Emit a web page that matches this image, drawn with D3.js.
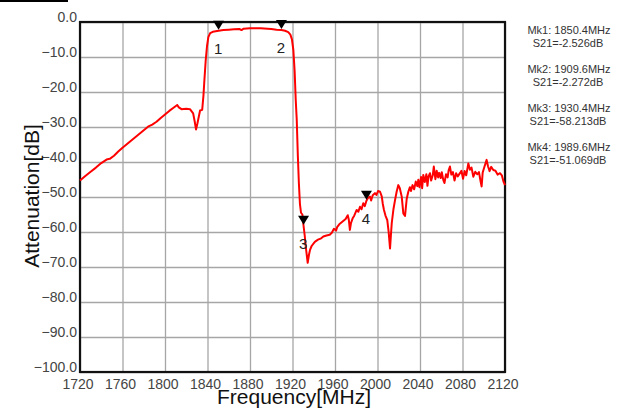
<!DOCTYPE html>
<html>
<head>
<meta charset="utf-8">
<script src="https://cdn.jsdelivr.net/npm/d3@7"></script>
<style>
  html, body { margin: 0; padding: 0; background: #fff; }
  svg { display: block; font-family: "Liberation Sans", Arial, sans-serif; }
</style>
</head>
<body>
<svg id="chart" width="617" height="411"></svg>
<script>
// S21 sweep: frequency (MHz) and attenuation (dB)
const traceFreq = [
  1720, 1725, 1730, 1735, 1740, 1745, 1748, 1752, 1756, 1760,
  1764, 1768, 1772, 1776, 1780, 1784, 1788, 1792, 1796, 1800,
  1804, 1808, 1811.5, 1813, 1815.5, 1820, 1823.5, 1826.5, 1828, 1829.2,
  1830.5, 1831.5, 1833, 1835, 1836.2, 1837, 1838.3, 1839.5, 1840.8, 1842.5,
  1845, 1850.4, 1855, 1860, 1865, 1870, 1872, 1874, 1880, 1890,
  1900, 1905, 1909.6, 1913, 1916, 1918, 1919.5, 1920.8, 1922, 1923,
  1924, 1925, 1926, 1927, 1928, 1929.3, 1930.4, 1931.5, 1932.8, 1934.3,
  1935.5, 1936.5, 1938, 1941, 1944, 1947, 1949, 1952, 1955, 1957,
  1959, 1961, 1962, 1964, 1966, 1968, 1970, 1972, 1973, 1974,
  1975, 1976.6, 1978, 1980.4, 1982, 1983.5, 1985, 1986.6, 1988, 1989.6,
  1991, 1992.9, 1994, 1995.5, 1997.6, 1999, 2000.5, 2002.4, 2004, 2005,
  2006.1, 2007.5, 2009.2, 2010.5, 2011.8, 2012.6, 2013.4, 2015, 2016.5, 2018,
  2019.6, 2021, 2022.8, 2024.3, 2025.9, 2027.5, 2029, 2030.5, 2031.5, 2033,
  2034.5, 2036, 2037.5, 2038.4, 2039.5, 2041, 2042, 2043.1, 2044.5, 2046,
  2047, 2048, 2049.4, 2050.5, 2052, 2053, 2054.5, 2055.7, 2057, 2058,
  2059.5, 2060.5, 2061.9, 2063, 2064.5, 2066, 2067, 2068.2, 2069.5, 2071,
  2072.5, 2074, 2075.5, 2077.6, 2079, 2080.5, 2082, 2083.5, 2085.5, 2087,
  2088.5, 2090.2, 2092, 2094, 2095.5, 2097, 2098, 2099, 2100.5, 2102.7,
  2104, 2105.5, 2107, 2109, 2111, 2113, 2115.3, 2117, 2118.5, 2120
];
const traceDb = [
  -45.3, -44.0, -42.8, -41.6, -40.3, -39.3, -39.1, -38.2, -37.0, -35.9,
  -34.9, -33.9, -32.9, -31.9, -30.9, -29.9, -29.3, -28.5, -27.4, -26.4,
  -25.4, -24.5, -23.7, -24.4, -24.9, -24.8, -24.9, -26.1, -28.5, -30.7,
  -29.0, -27.5, -25.3, -25.1, -21.0, -17.0, -11.0, -7.0, -4.3, -3.2,
  -2.8, -2.526, -2.3, -2.2, -2.1, -2.0, -2.3, -1.9, -1.8, -1.8,
  -2.0, -2.2, -2.272, -2.5, -2.9, -3.6, -5.0, -8.0, -14.0, -22.0,
  -28.0, -38.0, -46.0, -52.0, -54.5, -55.0, -58.213, -61.0, -65.0, -68.8,
  -66.5, -65.1, -64.0, -62.8, -62.2, -61.8, -61.3, -61.0, -60.8, -60.2,
  -59.1, -59.6, -58.6, -57.8, -57.3, -56.8, -56.3, -55.2, -56.5, -59.4,
  -57.5, -56.1, -55.4, -53.7, -54.2, -52.8, -53.5, -51.8, -52.6, -51.069,
  -50.3, -49.9, -51.0, -49.5, -48.9, -49.4, -48.3, -48.5, -49.8, -52.0,
  -53.7, -55.3, -56.6, -60.0, -64.7, -61.0, -57.5, -53.5, -50.9, -48.5,
  -46.6, -47.5, -49.9, -54.7, -55.4, -50.5, -48.5, -47.2, -48.3, -46.6,
  -47.8, -45.6, -46.9, -45.1, -47.2, -44.3, -47.5, -43.7, -45.7, -43.5,
  -46.8, -44.2, -43.2, -45.3, -43.8, -41.3, -44.9, -42.5, -44.4, -43.1,
  -44.6, -42.9, -45.1, -46.0, -43.5, -44.4, -42.3, -41.3, -43.6, -42.9,
  -45.3, -43.2, -44.1, -43.2, -42.5, -44.8, -42.6, -43.8, -40.4, -42.2,
  -41.6, -44.2, -42.8, -43.5, -42.9, -45.5, -47.0, -43.0, -41.5, -39.4,
  -41.2, -42.6, -41.4, -42.3, -42.5, -43.6, -43.2, -43.8, -45.5, -46.6
];

// Markers
const markerNames = ["1", "2", "3", "4"];
const markerFreq = [1850.4, 1909.6, 1930.4, 1989.6];
const markerDb = [-2.526, -2.272, -58.213, -51.069];

// Axis ticks
const xTicks = [1720, 1760, 1800, 1840, 1880, 1920, 1960, 2000, 2040, 2080, 2120];
const yTicks = [0, -10, -20, -30, -40, -50, -60, -70, -80, -90, -100];

const svg = d3.select("#chart");
const plotLeft = 80, plotRight = 505, plotTop = 22, plotBottom = 372;

const x = d3.scaleLinear().domain([1720, 2120]).range([plotLeft, plotRight]);
const y = d3.scaleLinear().domain([0, -100]).range([plotTop, plotBottom]);

svg.append("rect").attr("width", 617).attr("height", 411).attr("fill", "#fff");

// short rule at the top-left corner
svg.append("rect").attr("x", 0).attr("y", 0).attr("width", 68).attr("height", 2).attr("fill", "#000");

// grid
const gx = svg.append("g")
  .attr("transform", `translate(0,${plotBottom})`)
  .call(d3.axisBottom(x).tickValues(xTicks).tickSize(-(plotBottom - plotTop)).tickFormat(""));
gx.select(".domain").remove();
gx.selectAll("line").attr("stroke", "#a6a6a6").attr("stroke-width", 1.3);

const gy = svg.append("g")
  .attr("transform", `translate(${plotLeft},0)`)
  .call(d3.axisLeft(y).tickValues(yTicks).tickSize(-(plotRight - plotLeft)).tickFormat(""));
gy.select(".domain").remove();
gy.selectAll("line").attr("stroke", "#a6a6a6").attr("stroke-width", 1.3);

// tick labels
svg.append("g").selectAll("text")
  .data(yTicks)
  .join("text")
  .attr("x", plotLeft - 3)
  .attr("y", d => y(d))
  .attr("text-anchor", "end")
  .attr("font-size", 14)
  .attr("fill", "#444")
  .text(d => d3.format(".1f")(d));

svg.append("g").selectAll("text")
  .data(xTicks)
  .join("text")
  .attr("x", d => x(d) - 2)
  .attr("y", plotBottom + 17)
  .attr("text-anchor", "middle")
  .attr("font-size", 14)
  .attr("fill", "#444")
  .text(d => d);

// frame
svg.append("rect")
  .attr("x", plotLeft).attr("y", plotTop)
  .attr("width", plotRight - plotLeft).attr("height", plotBottom - plotTop)
  .attr("fill", "none").attr("stroke", "#111").attr("stroke-width", 2.2);

// trace
const trace = traceFreq.map((f, i) => [f, traceDb[i]]);
svg.append("path")
  .datum(trace)
  .attr("fill", "none")
  .attr("stroke", "#ff0000")
  .attr("stroke-width", 2)
  .attr("stroke-linejoin", "round")
  .attr("d", d3.line().x(d => x(d[0])).y(d => y(d[1])));

// markers
const mk = svg.append("g");
markerFreq.forEach((f, i) => {
  const mx = x(f), tip = y(markerDb[i]) - 1;
  mk.append("path")
    .attr("d", `M${mx - 5.5},${tip - 9}L${mx + 5.5},${tip - 9}L${mx},${tip}Z`)
    .attr("fill", "#000");
  mk.append("text")
    .attr("x", mx - 0.5)
    .attr("y", tip + 24)
    .attr("text-anchor", "middle")
    .attr("font-size", 15)
    .attr("fill", "#222")
    .text(markerNames[i]);
});

// marker readout
const info = svg.append("g").attr("font-size", 11).attr("fill", "#333").attr("text-anchor", "middle");
markerFreq.forEach((f, i) => {
  info.append("text").attr("x", 569).attr("y", 34 + 39 * i)
    .text(`Mk${i + 1}: ${f.toFixed(1)}MHz`);
  info.append("text").attr("x", 568).attr("y", 47 + 39 * i)
    .text(`S21=${markerDb[i].toFixed(3)}dB`);
});

// axis titles
svg.append("text")
  .attr("transform", `translate(39,196) rotate(-90)`)
  .attr("text-anchor", "middle")
  .attr("font-size", 21)
  .attr("fill", "#111")
  .text("Attenuation[dB]");

svg.append("text")
  .attr("x", 294).attr("y", 404)
  .attr("text-anchor", "middle")
  .attr("font-size", 21)
  .attr("fill", "#111")
  .text("Frequency[MHz]");
</script>
</body>
</html>
